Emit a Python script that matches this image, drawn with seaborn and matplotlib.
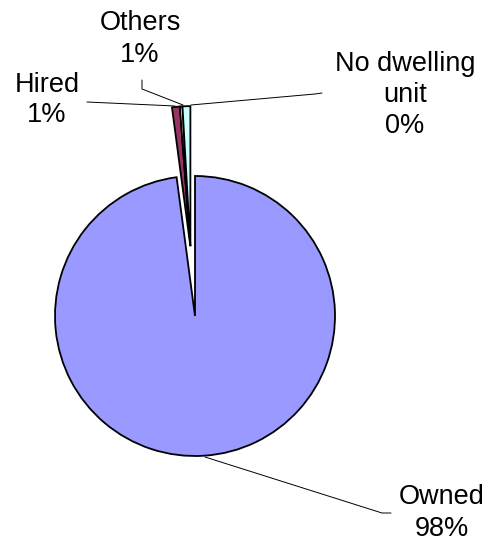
import matplotlib
matplotlib.use("Agg")
import matplotlib.pyplot as plt
import seaborn as sns
import numpy as np

# Dwelling ownership shares (percent)
categories = ["Owned", "Hired", "No dwelling\nunit", "Others"]
shares = [97.9, 0.9, 0.3, 0.9]
colors = ["#9999FF", "#993366", "#FFFFCC", "#CCFFFF"]

sns.set_theme(style="white")
plt.rcParams["font.family"] = ["Liberation Sans", "DejaVu Sans"]

W, H = 497, 548
fig = plt.figure(figsize=(W / 100, H / 100), dpi=100)
ax = fig.add_axes([0, 0, 1, 1])
ax.set_xlim(0, W)
ax.set_ylim(0, H)
ax.set_aspect("equal")
ax.axis("off")

cx, cy, r = 195, H - 316, 140
wedges, _ = ax.pie(
    shares,
    colors=colors,
    startangle=90,
    counterclock=False,
    center=(cx, cy),
    radius=r,
    wedgeprops=dict(edgecolor="black", linewidth=1.3),
    frame=True,
)
ax.set_xlim(0, W)
ax.set_ylim(0, H)
ax.axis("off")

# pull the small slices out together along the bisector of their group
small = wedges[1:]
t1 = min(w.theta1 for w in small)
t2 = max(w.theta2 for w in small)
mid = np.deg2rad((t1 + t2) / 2)
off = 0.5 * r
for w in small:
    w.set_center((cx + off * np.cos(mid), cy + off * np.sin(mid)))

# labels with leader lines (positions in pixels from the top-left)
label_pos = {
    "Owned": (442, 513),
    "Hired": (47, 100),
    "No dwelling\nunit": (405, 95),
    "Others": (140, 39),
}
leaders = {
    "Owned": [(391, 513), (382, 513), (205, 457)],
    "Hired": [(87, 102), (175, 106)],
    "No dwelling\nunit": [(322, 93), (315, 94), (191, 105)],
    "Others": [(142, 80), (142, 89), (183, 105)],
}
for name, val in zip(categories, shares):
    x, y = label_pos[name]
    ax.text(x, H - y, f"{name}\n{round(val):.0f}%", ha="center", va="center",
            fontsize=19.5, linespacing=1.25, color="black")
    pts = leaders[name]
    ax.plot([p[0] for p in pts], [H - p[1] for p in pts], color="black", lw=0.7)

fig.savefig("out.png", dpi=100, facecolor="white")
